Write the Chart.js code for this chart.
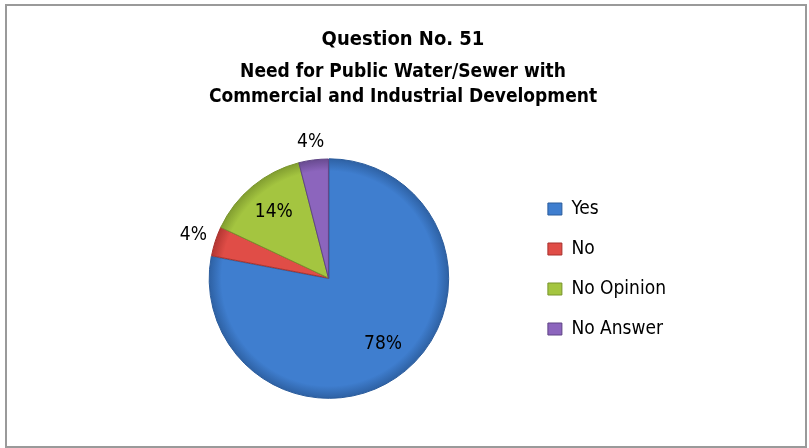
<!DOCTYPE html>
<html>
<head>
<meta charset="utf-8">
<script src="https://cdn.jsdelivr.net/npm/chart.js@4/dist/chart.umd.min.js"></script>
<style>
    html, body { margin: 0; padding: 0; background: #fff; }
    canvas { display: block; }
</style>
</head>
<body>
<canvas id="chart" width="809" height="448"></canvas>
<script>
const categories = ['Yes', 'No', 'No Opinion', 'No Answer'];
const percents = [78, 4, 14, 4];
const sliceColors = ['#3F7ECF', '#E04D47', '#A4C540', '#8C65BD'];
const edgeColors = ['#2B5C9C', '#A8312D', '#79942C', '#5F4485'];
const titleText = 'Question No. 51';
const subtitleLines = ['Need for Public Water/Sewer with', 'Commercial and Industrial Development'];

const FONT = "'Liberation Sans Narrow', 'Arial Narrow', 'DejaVu Sans Condensed', sans-serif";
Chart.defaults.font.family = FONT;
Chart.defaults.color = '#000';

// slight darkening towards the rim, like the bevelled Excel pie
function sliceFill(context) {
    const i = context.dataIndex;
    const area = context.chart.chartArea;
    if (!area) return sliceColors[i];
    const cx = (area.left + area.right) / 2;
    const cy = (area.top + area.bottom) / 2;
    const g = context.chart.ctx.createRadialGradient(cx, cy, 0, cx, cy, 122);
    g.addColorStop(0, sliceColors[i]);
    g.addColorStop(0.88, sliceColors[i]);
    g.addColorStop(1, edgeColors[i]);
    return g;
}

const frame = {
    id: 'frame',
    beforeDraw(chart) {
        const { ctx } = chart;
        ctx.save();
        ctx.strokeStyle = '#9a9a9a';
        ctx.lineWidth = 2;
        ctx.strokeRect(6, 5, 800, 442);
        ctx.restore();
    }
};

// move the legend block down next to the pie, like the original
const legendShift = {
    id: 'legendShift',
    afterLayout(chart) {
        chart.legend.top += 51;
        chart.legend.bottom += 51;
    }
};

const sliceLabels = {
    id: 'sliceLabels',
    afterDatasetsDraw(chart) {
        const { ctx } = chart;
        const meta = chart.getDatasetMeta(0);
        ctx.save();
        ctx.font = `19px ${FONT}`;
        ctx.fillStyle = '#000';
        ctx.textAlign = 'center';
        ctx.textBaseline = 'middle';
        meta.data.forEach((arc, i) => {
            const { x, y, startAngle, endAngle, outerRadius } = arc.getProps(['x', 'y', 'startAngle', 'endAngle', 'outerRadius'], true);
            const mid = (startAngle + endAngle) / 2;
            const dx = Math.cos(mid), dy = Math.sin(mid);
            const text = percents[i] + '%';
            let px, py;
            if (percents[i] >= 10) {
                px = x + dx * outerRadius * 0.72;
                py = y + dy * outerRadius * 0.72;
            } else {
                const w = ctx.measureText(text).width;
                px = x + dx * outerRadius * 1.08 + dx * w / 2;
                py = y + dy * outerRadius * 1.08 + dy * 9;
            }
            ctx.fillText(text, px, py);
        });
        ctx.restore();
    }
};

new Chart(document.getElementById('chart'), {
    type: 'pie',
    data: {
        labels: categories,
        datasets: [{
            data: percents,
            backgroundColor: sliceFill,
            borderColor: edgeColors,
            borderWidth: 1,
            offset: [3, 0, 0, 0],
            radius: 119
        }]
    },
    options: {
        responsive: false,
        devicePixelRatio: 1,
        animation: false,
        layout: { padding: { left: 130, right: 133, top: 0, bottom: 12 } },
        plugins: {
            title: {
                display: true,
                text: titleText,
                font: { size: 20, weight: 'bold', lineHeight: 1.2 },
                padding: { top: 28, bottom: 8 }
            },
            subtitle: {
                display: true,
                text: subtitleLines,
                color: '#000',
                font: { size: 19, weight: 'bold', lineHeight: 25 / 19 },
                padding: { top: 0, bottom: 10 }
            },
            legend: {
                display: true,
                position: 'right',
                labels: {
                    boxWidth: 14,
                    boxHeight: 12,
                    padding: 21,
                    font: { size: 19 },
                    color: '#000',
                    generateLabels: () => categories.map((c, i) => ({
                        text: c,
                        fillStyle: sliceColors[i],
                        strokeStyle: edgeColors[i],
                        lineWidth: 1,
                        hidden: false,
                        index: i
                    }))
                }
            },
            tooltip: { enabled: false }
        }
    },
    plugins: [frame, legendShift, sliceLabels]
});
</script>
</body>
</html>
